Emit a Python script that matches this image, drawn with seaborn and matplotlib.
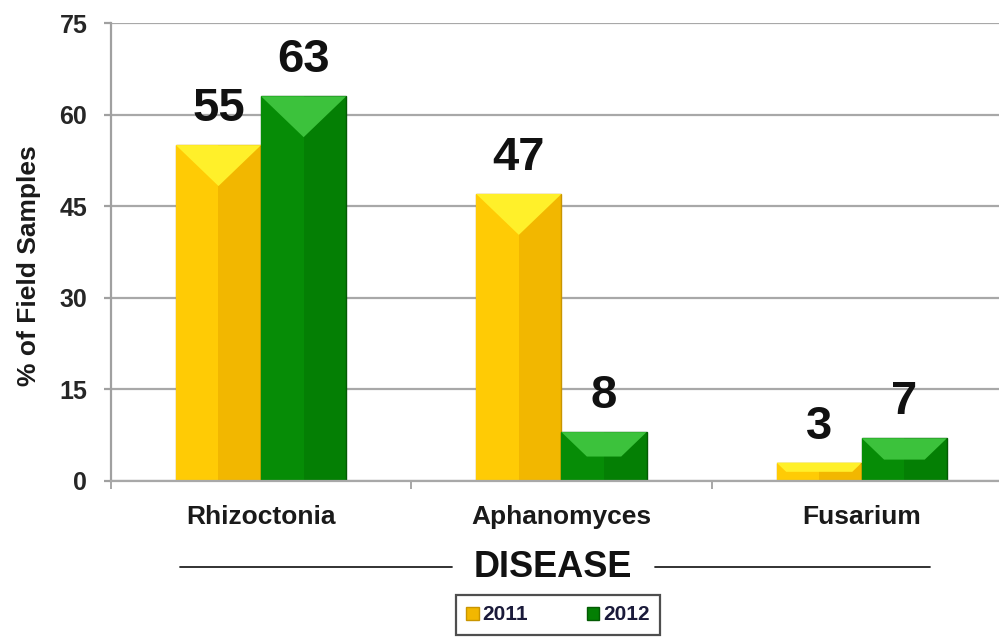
import pandas as pd
import seaborn as sns
import matplotlib.pyplot as plt
from matplotlib.patches import Polygon, Rectangle
from matplotlib.lines import Line2D

# chart values
diseases = ['Rhizoctonia', 'Aphanomyces', 'Fusarium']
years = ['2011', '2012']
pct_2011 = [55, 47, 3]
pct_2012 = [63, 8, 7]
y_ticks = [0, 15, 30, 45, 60, 75]

df = pd.DataFrame({
    'disease': diseases * 2,
    'year': [years[0]] * 3 + [years[1]] * 3,
    'pct': pct_2011 + pct_2012,
})

sns.set_style('white')
plt.rcParams['font.family'] = ['Liberation Sans', 'DejaVu Sans']
plt.rcParams['font.weight'] = 'bold'

base = {'2011': '#F2B700', '2012': '#047F04'}
light = {'2011': '#FFCB05', '2012': '#068C06'}
top_hl = {'2011': '#FFF02A', '2012': '#3CC23C'}
edge = {'2011': '#C99500', '2012': '#035A03'}

fig = plt.figure(figsize=(9.99, 6.39), dpi=100)
ax = fig.add_axes([0.111, 0.2473, 0.902, 0.7167])

sns.barplot(data=df, x='disease', y='pct', hue='year', palette=base,
            width=0.567, gap=0, saturation=1, ax=ax, legend=True)

# fake bevel look, built from each bar's own geometry
depth = 6.7
for cont, yr in zip(ax.containers, years):
    for bar in cont:
        x0, w, h = bar.get_x(), bar.get_width(), bar.get_height()
        bar.set_edgecolor(edge[yr])
        bar.set_linewidth(1)
        ax.add_patch(Rectangle((x0, 0), w * 0.5, h, color=light[yr], zorder=bar.get_zorder() + 0.1, lw=0))
        d = min(depth, h * 0.5)
        frac = 1 - d / depth
        xc = x0 + w / 2
        ax.add_patch(Polygon([(x0, h), (x0 + w, h), (xc + w / 2 * frac, h - d), (xc - w / 2 * frac, h - d)],
                             closed=True, color=top_hl[yr], zorder=bar.get_zorder() + 0.2, lw=0))
    ax.bar_label(cont, labels=[str(int(v)) for v in cont.datavalues], padding=10,
                 fontsize=34, fontweight='bold', color='#111111')

ax.set_ylim(0, 75)
ax.set_xlim(-0.5, 2.5)
ax.set_yticks(y_ticks)
ax.yaxis.grid(True, color='#a8a8a8', linewidth=1.6)
ax.set_axisbelow(True)

for s in ['top', 'right']:
    ax.spines[s].set_visible(False)
ax.spines['left'].set_color('#a0a0a0')
ax.spines['left'].set_linewidth(1.6)
ax.spines['bottom'].set_color('#a8a8a8')
ax.spines['bottom'].set_linewidth(1.6)

ax.tick_params(axis='y', left=True, length=5, width=1.6, color='#a0a0a0', pad=12,
               labelsize=18, labelcolor='#262626')
ax.tick_params(axis='x', which='major', bottom=False, length=0, pad=17, labelsize=19, labelcolor='#1a1a1a')
ax.set_xticks([-0.5, 0.5, 1.5, 2.5], minor=True)
ax.tick_params(axis='x', which='minor', bottom=True, length=6, width=1.3, color='#a0a0a0')
for t in ax.get_xticklabels() + ax.get_yticklabels():
    t.set_fontweight('bold')

ax.set_xlabel('')
ax.set_ylabel('% of Field Samples', fontsize=19, fontweight='bold', color='#1a1a1a')
ax.yaxis.set_label_coords(-0.078, 0.47)

# axis title with rules on both sides
fig.text(0.553, 0.112, 'DISEASE', ha='center', va='center', fontsize=26,
         fontweight='bold', color='#111111')
fig.add_artist(Line2D([0.180, 0.452], [0.112, 0.112], color='#222222', lw=1.3))
fig.add_artist(Line2D([0.656, 0.931], [0.112, 0.112], color='#222222', lw=1.3))

ax.legend_.remove()
handles = [Rectangle((0, 0), 1, 1, facecolor=base[y], edgecolor=edge[y]) for y in years]
leg = fig.legend(handles, years, loc='center', bbox_to_anchor=(0.5586, 0.0376), ncol=2,
                 frameon=True, fancybox=False, handlelength=0.6, handleheight=0.6,
                 handletextpad=0.2, columnspacing=2.8, borderpad=0.5, borderaxespad=0,
                 prop={'size': 15, 'weight': 'bold'})
leg.get_frame().set_edgecolor('#222222')
leg.get_frame().set_linewidth(1.6)
for t in leg.get_texts():
    t.set_color('#1a1a3a')

fig.savefig('out.png', dpi=100)
